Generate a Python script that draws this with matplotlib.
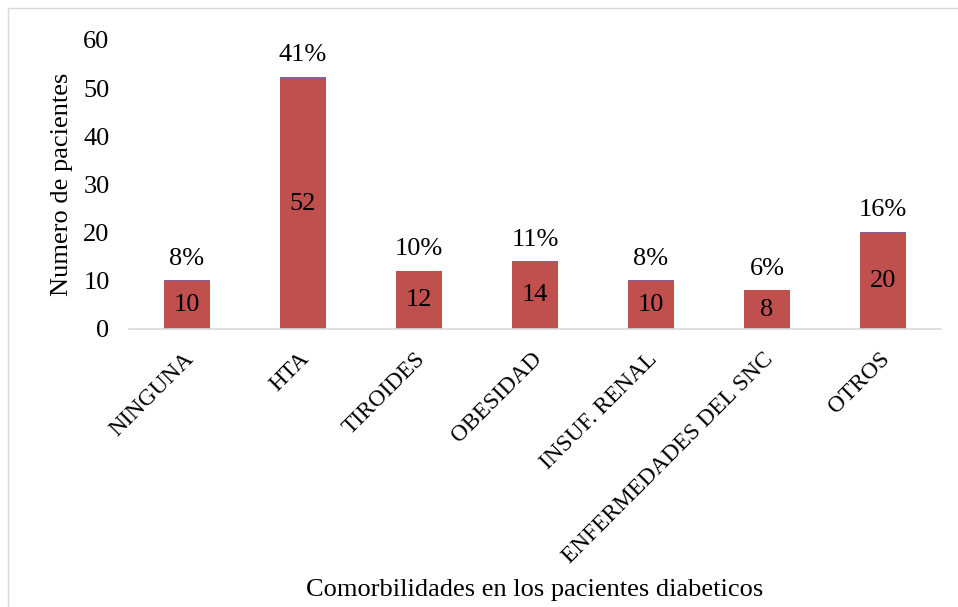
import matplotlib
matplotlib.use("Agg")
import matplotlib.pyplot as plt
from matplotlib.patches import Rectangle
from matplotlib.transforms import ScaledTranslation

plt.rcParams['font.family'] = ['Liberation Serif', 'DejaVu Serif']

categories = ["NINGUNA", "HTA", "TIROIDES", "OBESIDAD", "INSUF. RENAL",
              "ENFERMEDADES DEL SNC", "OTROS"]
pacientes = [10, 52, 12, 14, 10, 8, 20]
total = sum(pacientes)
porcentaje = [p / total for p in pacientes]
yticks = [0, 10, 20, 30, 40, 50, 60]

FS = 19

fig = plt.figure(figsize=(9.58, 6.07), dpi=100)
ax = fig.add_axes([129 / 958, 1 - 329 / 607, 812 / 958, 289 / 607])

x = list(range(len(categories)))
ax.bar(x, pacientes, width=0.4, color="#C0504D", zorder=2)
ax.bar(x, porcentaje, width=0.4, bottom=pacientes, color="#8064A2", zorder=2)

for xi, p, f in zip(x, pacientes, porcentaje):
    ax.text(xi, p / 2, f"{p}", ha="center", va="center", fontsize=FS, color="black")
    ax.annotate(f"{round(f * 100):.0f}%", xy=(xi, p + f), xytext=(0, 15.5),
                textcoords="offset points", ha="center", va="center", fontsize=FS)

ax.set_xlim(-0.5, len(categories) - 0.5)
ax.set_ylim(0, 60)
ax.set_yticks(yticks)
ax.set_yticklabels([str(t) for t in yticks], fontsize=FS)
ax.set_xticks(x)
ax.set_xticklabels(categories, rotation=45, ha="right", va="top",
                   rotation_mode="anchor", fontsize=16.8)
ax.tick_params(axis="y", length=0, pad=14)
ax.tick_params(axis="x", length=0, pad=14)
shift = ScaledTranslation(-4 / 100, 0, fig.dpi_scale_trans)
for lbl in ax.get_xticklabels():
    lbl.set_transform(lbl.get_transform() + shift)

for s in ["top", "right", "left"]:
    ax.spines[s].set_visible(False)
ax.spines["bottom"].set_color("#D9D9D9")
ax.spines["bottom"].set_linewidth(1.2)

ax.set_ylabel("Numero de pacientes", fontsize=FS)
ax.yaxis.set_label_coords(-0.069, 0.5)
fig.text(535 / 958, 1 - 590 / 607, "Comorbilidades en los pacientes diabeticos",
         ha="center", va="center", fontsize=FS)

fig.patches.append(Rectangle((8 / 958, -0.05), 1.1, 1 - 8 / 607 + 0.05,
                             transform=fig.transFigure, fill=False,
                             edgecolor="#D9D9D9", linewidth=1.0))

fig.savefig("out.png", dpi=100, facecolor="white")
